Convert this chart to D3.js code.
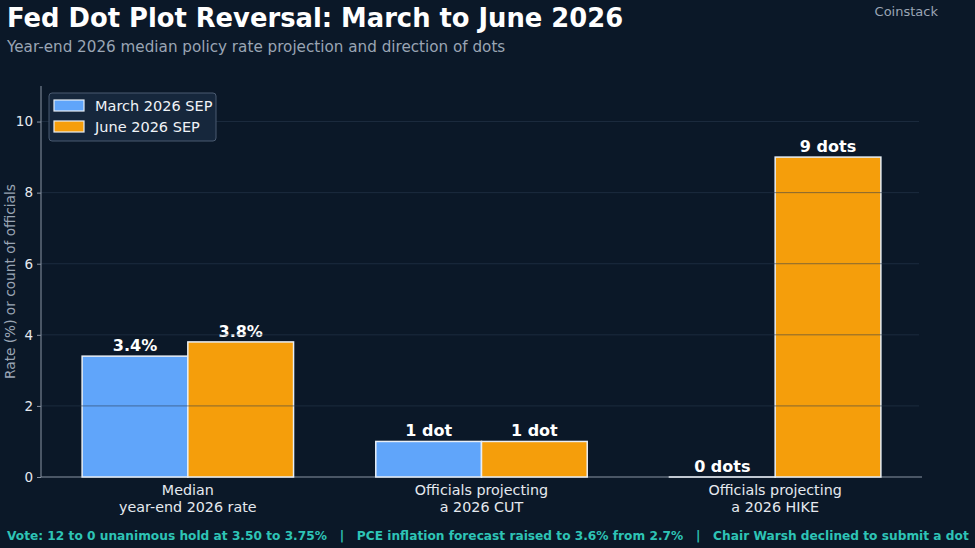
<!DOCTYPE html>
<html>
<head>
<meta charset="utf-8">
<script src="https://cdn.jsdelivr.net/npm/d3@7"></script>
<style>
  html, body { margin: 0; padding: 0; background: #0b1828; }
  svg { display: block; font-family: "DejaVu Sans", sans-serif; }
</style>
</head>
<body>
<div class="chart"></div>
<script>
'use strict';

var categories = ['Median\nyear-end 2026 rate', 'Officials projecting\na 2026 CUT', 'Officials projecting\na 2026 HIKE'];
var seriesNames = ['March 2026 SEP', 'June 2026 SEP'];
var marchValues = [3.4, 1, 0];
var juneValues = [3.8, 1, 9];
var marchLabels = ['3.4%', '1 dot', '0 dots'];
var juneLabels = ['3.8%', '1 dot', '9 dots'];
var yTicks = [0, 2, 4, 6, 8, 10];
var footerText = 'Vote: 12 to 0 unanimous hold at 3.50 to 3.75%   |   PCE inflation forecast raised to 3.6% from 2.7%   |   Chair Warsh declined to submit a dot';

var width = 975, height = 548;
var margins = { top: 86, bottom: 71, left: 41, right: 53 };
var colors = ['#60a5fa', '#f59e0b'];

var svg = d3.select('div.chart').append('svg')
    .attr('width', width)
    .attr('height', height);

svg.append('rect').attr('width', width).attr('height', height).attr('fill', '#0b1828');

var plotW = width - margins.left - margins.right;
var plotH = height - margins.top - margins.bottom;

var xScale = d3.scaleLinear().domain([-0.5, categories.length - 0.5]).range([0, plotW]);
var yScale = d3.scaleLinear().domain([0, 11]).range([plotH, 0]);
var barW = 0.36;

var chart = svg.append('g')
    .attr('transform', 'translate(' + margins.left + ',' + margins.top + ')');

// x axis line first so zero-height bar edges sit on top of it
chart.append('line').attr('x1', 0).attr('x2', plotW)
    .attr('y1', plotH).attr('y2', plotH).attr('stroke', '#8a94a3');

// bars
var series = [marchValues, juneValues];
var labels = [marchLabels, juneLabels];
series.forEach(function (vals, s) {
    var off = s === 0 ? -barW : 0;
    chart.selectAll('rect.s' + s)
        .data(vals)
        .enter().append('rect')
        .attr('class', 's' + s)
        .attr('x', function (d, i) { return xScale(i + off); })
        .attr('width', xScale(barW) - xScale(0))
        .attr('y', function (d) { return yScale(d); })
        .attr('height', function (d) { return Math.max(yScale(0) - yScale(d), 0.01); })
        .attr('fill', colors[s])
        .attr('stroke', '#e8eef5')
        .attr('stroke-width', 1.5);

    chart.selectAll('text.l' + s)
        .data(vals)
        .enter().append('text')
        .attr('class', 'l' + s)
        .attr('x', function (d, i) { return xScale(i + off + barW / 2); })
        .attr('y', function (d) { return yScale(d) - 5; })
        .attr('text-anchor', 'middle')
        .attr('fill', '#ffffff')
        .attr('font-weight', 'bold')
        .attr('font-size', 16)
        .text(function (d, i) { return labels[s][i]; });
});

// grid over bars
chart.selectAll('line.grid')
    .data(yTicks.filter(function (t) { return t > 0; }))
    .enter().append('line')
    .attr('class', 'grid')
    .attr('x1', 0).attr('x2', plotW - 3)
    .attr('y1', function (d) { return yScale(d); })
    .attr('y2', function (d) { return yScale(d); })
    .attr('stroke', '#2a3a50')
    .attr('stroke-opacity', 0.7)
    .attr('stroke-width', 0.8);

// axes
var yAxis = d3.axisLeft(yScale).tickValues(yTicks).tickSize(4).tickPadding(4);
var yAx = chart.append('g').call(yAxis);
yAx.select('.domain').attr('stroke', '#8a94a3').attr('d', 'M0,' + plotH + 'V0');
yAx.selectAll('.tick line').attr('stroke', '#8a94a3');
yAx.selectAll('.tick text').attr('fill', '#e5e9ef').attr('font-size', 13.5)
    .attr('font-family', '"DejaVu Sans", sans-serif');

var xAx = chart.append('g').attr('transform', 'translate(0,' + plotH + ')');
var catText = xAx.selectAll('text.cat')
    .data(categories)
    .enter().append('text')
    .attr('class', 'cat')
    .attr('x', function (d, i) { return xScale(i); })
    .attr('y', 18)
    .attr('text-anchor', 'middle')
    .attr('fill', '#e5e9ef')
    .attr('font-size', 14.3);
catText.selectAll('tspan')
    .data(function (d) { return d.split('\n'); })
    .enter().append('tspan')
    .attr('x', function () { return d3.select(this.parentNode).attr('x'); })
    .attr('dy', function (d, i) { return i === 0 ? 0 : 17; })
    .text(function (d) { return d; });

// y label
svg.append('text')
    .attr('transform', 'translate(15,' + (margins.top + plotH / 2) + ') rotate(-90)')
    .attr('text-anchor', 'middle')
    .attr('fill', '#9aa5b4')
    .attr('font-size', 13.7)
    .text('Rate (%) or count of officials');

// legend
var legend = svg.append('g').attr('transform', 'translate(49,93)');
legend.append('rect')
    .attr('width', 167).attr('height', 48).attr('rx', 3)
    .attr('fill', '#16273c').attr('stroke', '#4a5a70').attr('stroke-width', 1);
seriesNames.forEach(function (name, i) {
    legend.append('rect')
        .attr('x', 5).attr('y', 7 + i * 21)
        .attr('width', 30).attr('height', 11)
        .attr('fill', colors[i]).attr('stroke', '#e8eef5').attr('stroke-width', 1.2);
    legend.append('text')
        .attr('x', 46).attr('y', 17.5 + i * 21)
        .attr('fill', '#f0f3f7').attr('font-size', 14.5)
        .text(name);
});

// titles
svg.append('text').attr('x', 7).attr('y', 27)
    .attr('fill', '#ffffff').attr('font-weight', 'bold').attr('font-size', 25.8)
    .text('Fed Dot Plot Reversal: March to June 2026');
svg.append('text').attr('x', 7).attr('y', 52)
    .attr('fill', '#9aa5b4').attr('font-size', 15.2)
    .text('Year-end 2026 median policy rate projection and direction of dots');
svg.append('text').attr('x', 938).attr('y', 16)
    .attr('text-anchor', 'end')
    .attr('fill', '#9aa5b4').attr('font-size', 13)
    .text('Coinstack');

// footer
svg.append('text').attr('x', 7).attr('y', 540)
    .attr('fill', '#2ec4b6').attr('font-weight', 'bold').attr('font-size', 12.2)
    .attr('xml:space', 'preserve').style('white-space', 'pre')
    .text(footerText);
</script>
</body>
</html>
